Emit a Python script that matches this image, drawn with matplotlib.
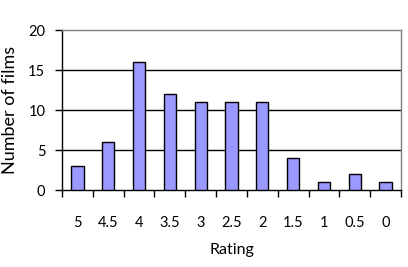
import matplotlib
matplotlib.use("Agg")
import matplotlib.pyplot as plt
import numpy as np

categories = ["5", "4.5", "4", "3.5", "3", "2.5", "2", "1.5", "1", "0.5", "0"]
counts = [3, 6, 16, 12, 11, 11, 11, 4, 1, 2, 1]
yticks = [0, 5, 10, 15, 20]

plt.rcParams['font.family'] = ['Lato', 'DejaVu Sans']

fig = plt.figure(figsize=(4.08, 2.67), dpi=100)
ax = fig.add_axes([62/408, 77/267, 339/408, 160/267])

x = np.arange(len(categories))
ax.bar(x, counts, width=0.4, color='#9999FF', edgecolor='black', linewidth=1, zorder=3)
ax.set_xlim(-0.5, len(categories) - 0.5)
ax.set_ylim(0, 20)

for v in [5, 10, 15]:
    ax.axhline(v, color='black', linewidth=1, zorder=1)

ax.set_yticks(yticks)
ax.set_yticklabels([str(v) for v in yticks], fontsize=10.5)
ax.set_xticks(np.arange(len(categories) + 1) - 0.5)
ax.set_xticklabels([])
ax.set_xticks(x, minor=True)
ax.set_xticklabels(categories, minor=True, fontsize=10.5)
ax.tick_params(axis='x', which='major', direction='out', length=5, width=1, color='black')
ax.tick_params(axis='x', which='minor', length=0, pad=19)
ax.tick_params(axis='y', direction='out', length=5, width=1, pad=7)

for s in ['top', 'right']:
    ax.spines[s].set_color('#808080')
    ax.spines[s].set_linewidth(1)
for s in ['left', 'bottom']:
    ax.spines[s].set_color('black')
    ax.spines[s].set_linewidth(1)

ax.set_xlabel('Rating', fontsize=11.5, labelpad=9)
ax.set_ylabel('Number of films', fontsize=13, labelpad=7)

fig.savefig('out.png', dpi=100)
